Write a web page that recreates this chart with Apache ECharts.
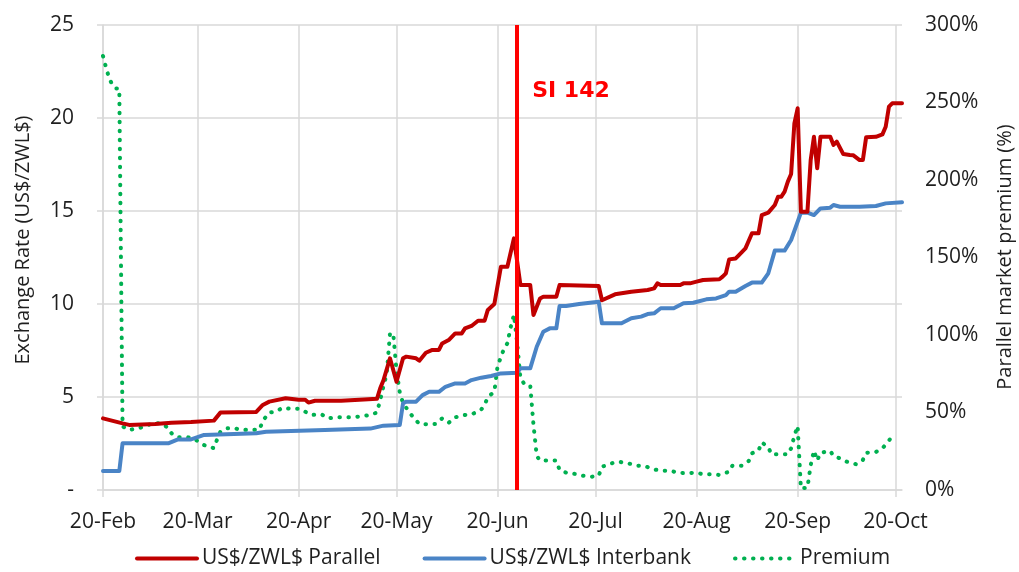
<!DOCTYPE html>
<html>
<head>
<meta charset="utf-8">
<script src="https://cdn.jsdelivr.net/npm/echarts@6/dist/echarts.min.js"></script>
<style>
html,body{margin:0;padding:0;background:#fff;}
#chart{width:1019px;height:572px;}
</style>
</head>
<body>
<div id="chart"></div>
<script>
// ---------- DATA ----------
const tickDates = ['2020-02-20','2020-03-20','2020-04-20','2020-05-20','2020-06-20','2020-07-20','2020-08-20','2020-09-20','2020-10-20'];
const yTicksLeft = [0, 5, 10, 15, 20, 25];
const yTicksRight = [0, 50, 100, 150, 200, 250, 300];

const parallelDates = ['2020-02-20','2020-02-26','2020-02-28','2020-03-07','2020-03-12','2020-03-18','2020-03-25','2020-03-27','2020-04-07','2020-04-09','2020-04-11','2020-04-16','2020-04-20','2020-04-22','2020-04-23','2020-04-25','2020-05-03','2020-05-10','2020-05-14','2020-05-15','2020-05-16','2020-05-18','2020-05-20','2020-05-22','2020-05-23','2020-05-26','2020-05-27','2020-05-29','2020-05-31','2020-06-02','2020-06-03','2020-06-05','2020-06-07','2020-06-09','2020-06-10','2020-06-12','2020-06-14','2020-06-16','2020-06-17','2020-06-19','2020-06-21','2020-06-23','2020-06-25','2020-06-27','2020-06-30','2020-07-01','2020-07-03','2020-07-04','2020-07-08','2020-07-09','2020-07-21','2020-07-22','2020-07-26','2020-07-29','2020-07-31','2020-08-05','2020-08-07','2020-08-08','2020-08-09','2020-08-15','2020-08-16','2020-08-18','2020-08-20','2020-08-22','2020-08-27','2020-08-28','2020-08-29','2020-08-30','2020-09-01','2020-09-02','2020-09-04','2020-09-06','2020-09-08','2020-09-09','2020-09-11','2020-09-13','2020-09-14','2020-09-15','2020-09-16','2020-09-17','2020-09-18','2020-09-19','2020-09-20','2020-09-21','2020-09-23','2020-09-24','2020-09-25','2020-09-26','2020-09-27','2020-09-30','2020-10-01','2020-10-02','2020-10-04','2020-10-06','2020-10-07','2020-10-09','2020-10-10','2020-10-11','2020-10-14','2020-10-16','2020-10-17','2020-10-18','2020-10-19','2020-10-22'];
const parallelValues = [3.85,3.58,3.50,3.55,3.62,3.65,3.73,4.16,4.20,4.57,4.75,4.93,4.85,4.85,4.70,4.80,4.80,4.87,4.90,5.47,5.90,7.08,5.82,7.08,7.17,7.08,6.95,7.38,7.53,7.53,7.88,8.06,8.42,8.42,8.69,8.82,9.10,9.10,9.68,10.00,12.00,12.00,13.53,11.02,11.02,9.41,10.30,10.39,10.39,11.02,10.97,10.20,10.52,10.60,10.66,10.75,10.84,11.11,11.02,11.02,11.11,11.11,11.20,11.29,11.33,11.47,11.65,12.40,12.45,12.63,12.99,13.80,13.80,14.78,14.91,15.32,15.77,15.77,16.04,16.58,16.99,19.71,20.52,14.96,14.96,17.74,18.99,17.30,18.99,18.99,18.55,18.73,18.06,18.01,18.00,17.74,17.74,18.96,18.99,19.12,19.53,20.61,20.79,20.79];

const interbankDates = ['2020-02-20','2020-02-25','2020-02-26','2020-03-11','2020-03-14','2020-03-18','2020-03-22','2020-04-07','2020-04-10','2020-04-28','2020-05-12','2020-05-16','2020-05-21','2020-05-22','2020-05-23','2020-05-26','2020-05-28','2020-05-30','2020-06-02','2020-06-04','2020-06-07','2020-06-10','2020-06-12','2020-06-15','2020-06-18','2020-06-21','2020-06-26','2020-06-27','2020-06-30','2020-07-02','2020-07-04','2020-07-06','2020-07-08','2020-07-09','2020-07-11','2020-07-15','2020-07-21','2020-07-22','2020-07-28','2020-07-31','2020-08-03','2020-08-05','2020-08-07','2020-08-09','2020-08-13','2020-08-16','2020-08-19','2020-08-23','2020-08-26','2020-08-29','2020-08-30','2020-09-01','2020-09-04','2020-09-06','2020-09-09','2020-09-11','2020-09-13','2020-09-16','2020-09-18','2020-09-21','2020-09-23','2020-09-25','2020-09-27','2020-09-30','2020-10-01','2020-10-03','2020-10-09','2020-10-14','2020-10-17','2020-10-22'];
const interbankValues = [1.02,1.02,2.51,2.51,2.72,2.72,2.96,3.05,3.13,3.23,3.30,3.46,3.50,4.66,4.75,4.75,5.10,5.28,5.28,5.55,5.73,5.73,5.91,6.04,6.13,6.27,6.30,6.54,6.54,7.70,8.51,8.69,8.69,9.89,9.89,10.00,10.12,8.96,8.96,9.23,9.32,9.46,9.50,9.77,9.77,10.04,10.07,10.25,10.30,10.48,10.66,10.66,10.97,11.15,11.15,11.65,12.87,12.87,13.44,14.91,14.91,14.78,15.14,15.18,15.32,15.23,15.23,15.27,15.41,15.47];

const premiumDates = ['2020-02-20','2020-02-21','2020-02-22','2020-02-23','2020-02-24','2020-02-25','2020-02-26','2020-02-28','2020-03-02','2020-03-04','2020-03-06','2020-03-09','2020-03-11','2020-03-12','2020-03-14','2020-03-17','2020-03-19','2020-03-21','2020-03-23','2020-03-25','2020-03-26','2020-03-27','2020-03-29','2020-03-31','2020-04-02','2020-04-05','2020-04-08','2020-04-09','2020-04-11','2020-04-13','2020-04-15','2020-04-17','2020-04-20','2020-04-22','2020-04-24','2020-04-27','2020-04-29','2020-05-02','2020-05-04','2020-05-07','2020-05-09','2020-05-12','2020-05-14','2020-05-15','2020-05-16','2020-05-17','2020-05-18','2020-05-19','2020-05-20','2020-05-21','2020-05-22','2020-05-24','2020-05-25','2020-05-27','2020-05-30','2020-06-01','2020-06-03','2020-06-05','2020-06-07','2020-06-10','2020-06-12','2020-06-15','2020-06-16','2020-06-17','2020-06-19','2020-06-20','2020-06-22','2020-06-23','2020-06-24','2020-06-25','2020-06-26','2020-06-27','2020-06-28','2020-06-30','2020-07-01','2020-07-02','2020-07-03','2020-07-06','2020-07-08','2020-07-09','2020-07-11','2020-07-14','2020-07-16','2020-07-19','2020-07-21','2020-07-22','2020-07-25','2020-07-27','2020-07-30','2020-08-02','2020-08-04','2020-08-07','2020-08-09','2020-08-12','2020-08-14','2020-08-17','2020-08-20','2020-08-22','2020-08-25','2020-08-27','2020-08-30','2020-08-31','2020-09-03','2020-09-05','2020-09-06','2020-09-08','2020-09-09','2020-09-11','2020-09-12','2020-09-15','2020-09-17','2020-09-18','2020-09-19','2020-09-20','2020-09-21','2020-09-23','2020-09-24','2020-09-25','2020-09-26','2020-09-27','2020-09-30','2020-10-01','2020-10-03','2020-10-05','2020-10-08','2020-10-10','2020-10-11','2020-10-14','2020-10-16','2020-10-18','2020-10-19'];
const premiumValues = [280,272,265,261,259,259,41,38.7,40,41,43,43,40,36.6,34,34,33,30,28,27,32.7,37.6,39.8,40,39,38.7,39,44.7,50,50.5,53,52.5,52.5,50.5,48.4,48.8,46.2,47,47,47,47.5,48.4,50,58,67,75,101,101,77,63,56,50,47.3,42.6,42.4,42.6,46.2,43.4,46.9,48.4,48.7,52,54.8,60,63.4,80,91.4,94.6,105,113,95,72,69,67.7,42,22,19,19,19,12.9,11.2,10.3,9.2,8.6,9.2,15,17.2,18.3,17.2,15.7,15.5,13.3,12.5,12.5,11.2,10.8,11.2,10.1,10.1,9.7,11.8,15.7,15.7,18.7,23.7,25.4,30.8,27.5,23,23,23,26.9,35,41.3,1,1.5,16,25.4,19,24,25.2,21.9,20.4,18.3,16.6,19.4,24,24.5,26.9,31.8,35];

const siDate = '2020-06-26';
const siLabel = 'SI 142';
const axisStart = '2020-02-20';
const axisEnd = '2020-10-22';

// ---------- CHART ----------
const MONTHS = ['Jan','Feb','Mar','Apr','May','Jun','Jul','Aug','Sep','Oct','Nov','Dec'];
const ts = s => { const p = s.split('-').map(Number); return Date.UTC(p[0], p[1] - 1, p[2]); };
const zip = (a, b) => a.map((d, i) => [ts(d), b[i]]);
const FONT = 'Open Sans';
const TXT = '#1f1f1f';
const GRID = '#D9D9D9';
const RED = '#C00000', BLUE = '#4A84C6', GREEN = '#00B050';
const DOTS = [0.5, 8.5];
const tickTs = tickDates.map(ts);

const chart = echarts.init(document.getElementById('chart'), null, {renderer: 'canvas'});
chart.setOption({
  animation: false,
  backgroundColor: '#ffffff',
  textStyle: {fontFamily: FONT},
  grid: {left: 103, right: 117, top: 25, bottom: 82, containLabel: false},
  legend: {
    left: 130, top: 543,
    itemWidth: 60, itemHeight: 8, itemGap: 42,
    textStyle: {fontSize: 21, color: TXT, fontFamily: FONT},
    itemStyle: {color: 'rgba(0,0,0,0)', borderWidth: 0, opacity: 0},
    lineStyle: {width: 4},
    data: [
      {name: 'US$/ZWL$ Parallel', lineStyle: {width: 4, color: RED, type: 'solid'}},
      {name: 'US$/ZWL$ Interbank', lineStyle: {width: 4, color: BLUE, type: 'solid'}},
      {name: 'Premium', lineStyle: {width: 4, color: GREEN, type: DOTS, cap: 'round'}}
    ]
  },
  xAxis: {
    type: 'value',
    min: ts(axisStart), max: ts(axisEnd),
    axisLine: {show: true, onZero: false, lineStyle: {color: GRID, width: 1.5}},
    axisTick: {show: true, length: 7, lineStyle: {color: GRID, width: 1.5}, customValues: tickTs},
    axisLabel: {
      customValues: tickTs,
      margin: 22, fontSize: 21, color: TXT, fontFamily: FONT,
      formatter: v => { const d = new Date(v); return d.getUTCDate() + '-' + MONTHS[d.getUTCMonth()]; }
    },
    splitLine: {show: true, lineStyle: {color: GRID, width: 1.5}}
  },
  yAxis: [{
    type: 'value', min: 0, max: 25, interval: 5,
    axisLine: {show: true, lineStyle: {color: GRID, width: 1.5}},
    axisTick: {show: true, length: 6, lineStyle: {color: GRID, width: 1.5}},
    axisLabel: {margin: 29, fontSize: 21, color: TXT, fontFamily: FONT,
      formatter: v => v === 0 ? '-' : String(v)},
    splitLine: {show: true, lineStyle: {color: GRID, width: 1.5}}
  }, {
    type: 'value', min: 0, max: 300, interval: 50, position: 'right',
    axisLine: {show: false}, axisTick: {show: false},
    axisLabel: {margin: 23, fontSize: 21, color: TXT, fontFamily: FONT, formatter: v => v + '%'},
    splitLine: {show: false}
  }],
  series: [{
    name: 'US$/ZWL$ Parallel', type: 'line', yAxisIndex: 0,
    data: zip(parallelDates, parallelValues),
    symbol: 'none', showSymbol: false, z: 4,
    itemStyle: {color: RED},
    lineStyle: {color: RED, width: 4, join: 'round', cap: 'round'},
    markLine: {
      silent: true, symbol: ['none', 'none'], animation: false,
      label: {show: false},
      lineStyle: {color: '#FF0000', width: 4, type: 'solid'},
      data: [{xAxis: ts(siDate)}]
    }
  }, {
    name: 'US$/ZWL$ Interbank', type: 'line', yAxisIndex: 0,
    data: zip(interbankDates, interbankValues),
    symbol: 'none', showSymbol: false, z: 3,
    itemStyle: {color: BLUE},
    lineStyle: {color: BLUE, width: 4, join: 'round', cap: 'round'}
  }, {
    name: 'Premium', type: 'line', yAxisIndex: 1,
    data: zip(premiumDates, premiumValues),
    symbol: 'none', showSymbol: false, z: 2,
    itemStyle: {color: GREEN},
    lineStyle: {color: GREEN, width: 4, type: DOTS, cap: 'round', join: 'round'}
  }]
});

// Axis titles and the SI 142 label (label placed using the axis scale)
const siX = chart.convertToPixel({xAxisIndex: 0}, ts(siDate));
chart.setOption({
  graphic: [{
    type: 'text', x: 23, y: 240, rotation: Math.PI / 2,
    style: {text: 'Exchange Rate (US$/ZWL$)', fontSize: 20, fontFamily: FONT, fill: TXT, align: 'center', verticalAlign: 'middle'}
  }, {
    type: 'text', x: 1005, y: 257, rotation: Math.PI / 2,
    style: {text: 'Parallel market premium (%)', fontSize: 20, fontFamily: FONT, fill: TXT, align: 'center', verticalAlign: 'middle'}
  }, {
    type: 'text', x: siX + 15, y: 91,
    style: {text: siLabel, fontSize: 22, fontWeight: 'bold', fontFamily: 'DejaVu Sans', fill: '#FF0000', align: 'left', verticalAlign: 'middle'}
  }]
});
</script>
</body>
</html>
